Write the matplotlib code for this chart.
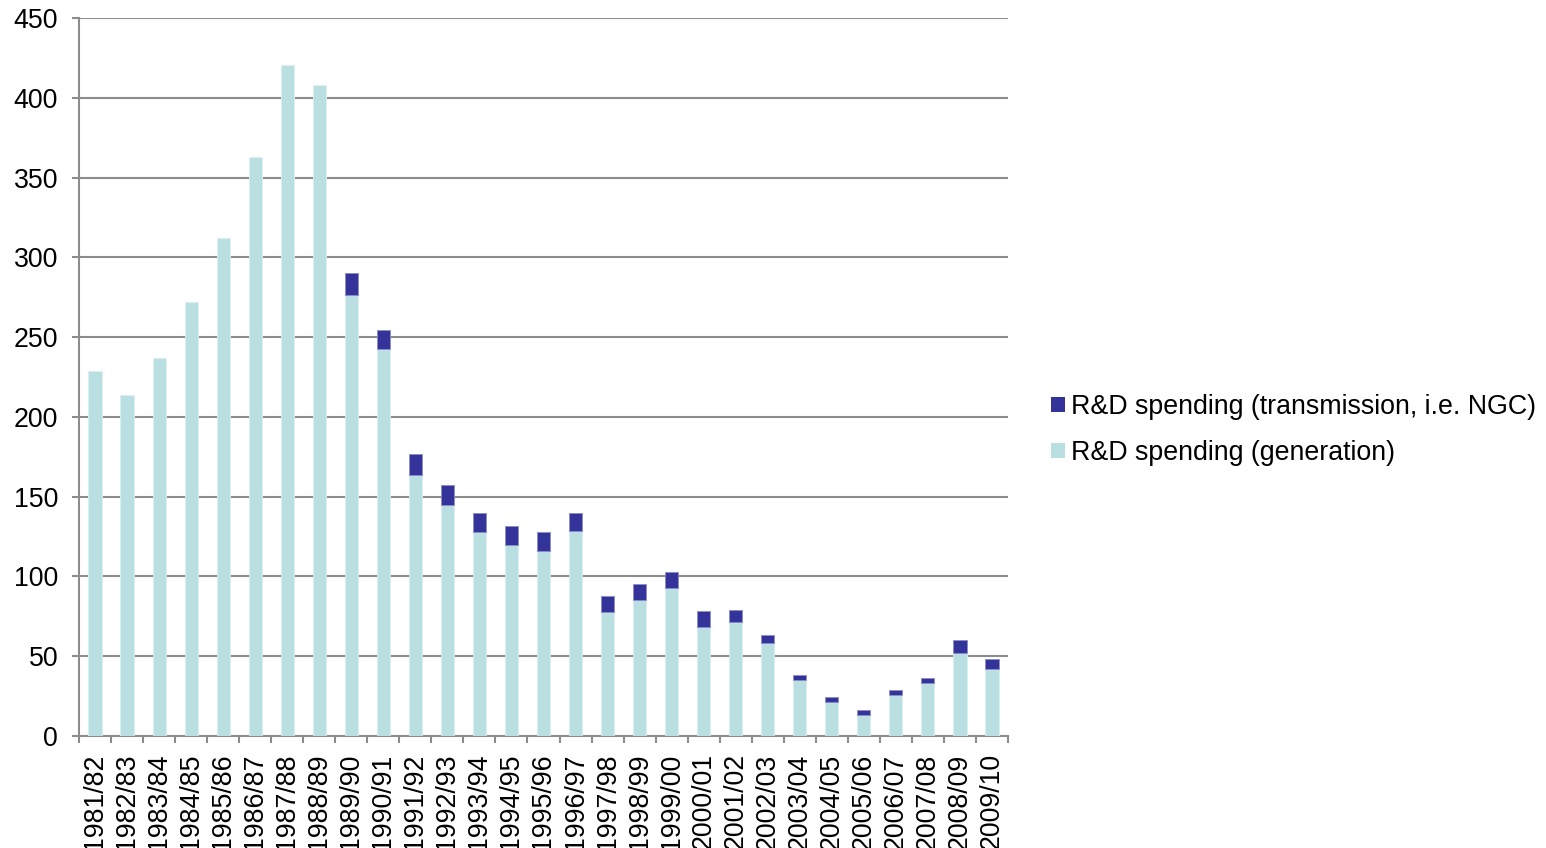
import matplotlib
matplotlib.use("Agg")
import matplotlib.pyplot as plt
from matplotlib.patches import Patch
import numpy as np

plt.rcParams['font.family'] = ['Liberation Sans', 'DejaVu Sans']

years = ["1981/82", "1982/83", "1983/84", "1984/85", "1985/86", "1986/87",
         "1987/88", "1988/89", "1989/90", "1990/91", "1991/92", "1992/93",
         "1993/94", "1994/95", "1995/96", "1996/97", "1997/98", "1998/99",
         "1999/00", "2000/01", "2001/02", "2002/03", "2003/04", "2004/05",
         "2005/06", "2006/07", "2007/08", "2008/09", "2009/10"]

generation = [229, 214, 237, 272, 312, 363, 420.5, 408, 276.5, 242.5,
              163.5, 145, 128, 120, 116, 128.5, 77.5, 85, 92.5, 68.5,
              71.5, 58, 35, 21.5, 13, 26, 33, 52, 42]

transmission = [0, 0, 0, 0, 0, 0, 0, 0, 13.5, 12, 13, 12.5, 12, 11.5, 12,
                11.5, 10.5, 10, 10.5, 10, 7.5, 5, 3.5, 3, 3, 2.7, 3.3, 8, 6]

light = "#B9DFE3"
dark = "#333399"
grid_col = "#8C8C8C"
fs = 19.3

fig = plt.figure(figsize=(15.46, 8.48), dpi=100)
ax = fig.add_axes([79 / 1546, 1 - 736 / 848, (1008 - 79) / 1546, (736 - 18) / 848])

x = np.arange(len(years))
gen = np.array(generation, dtype=float)
trn = np.array(transmission, dtype=float)
w = 0.41
ax.bar(x, gen, width=w, color=light, edgecolor="#DDEFF1", linewidth=0.6, zorder=3)
has_trn = trn > 0
ax.bar(x[has_trn], trn[has_trn], width=w, bottom=gen[has_trn], color=dark,
       edgecolor="#8C8CC8", linewidth=0.6, zorder=3)

ax.set_xlim(-0.5, len(years) - 0.5)
ax.set_ylim(0, 450)
ax.set_yticks(np.arange(0, 451, 50))
ax.yaxis.grid(True, color=grid_col, linewidth=1.5, zorder=0)
ax.set_axisbelow(True)

# category labels centred on bars, tick marks at category boundaries
ax.set_xticks(x)
ax.set_xticklabels(years, rotation=90, fontsize=fs, color="black")
ax.tick_params(axis="x", which="major", length=0, pad=12.5)
ax.set_xticks(np.arange(-0.5, len(years), 1), minor=True)
ax.tick_params(axis="x", which="minor", length=5, width=1.5, color=grid_col, direction="out")
ax.tick_params(axis="y", length=5, width=1.5, color=grid_col, labelsize=fs, pad=10)

for side in ("top", "right"):
    ax.spines[side].set_visible(False)
for side in ("left", "bottom"):
    ax.spines[side].set_color(grid_col)
    ax.spines[side].set_linewidth(1.5)

handles = [Patch(facecolor=dark, edgecolor="none"),
           Patch(facecolor=light, edgecolor="none")]
labels = ["R&D spending (transmission, i.e. NGC)", "R&D spending (generation)"]
fig.legend(handles, labels, loc="center left", bbox_to_anchor=(1027 / 1546, 1 - 430 / 848),
           frameon=False, fontsize=fs, handlelength=0.5, handleheight=0.5,
           handletextpad=0.25, labelspacing=0.75)

fig.savefig("out.png", dpi=100)
